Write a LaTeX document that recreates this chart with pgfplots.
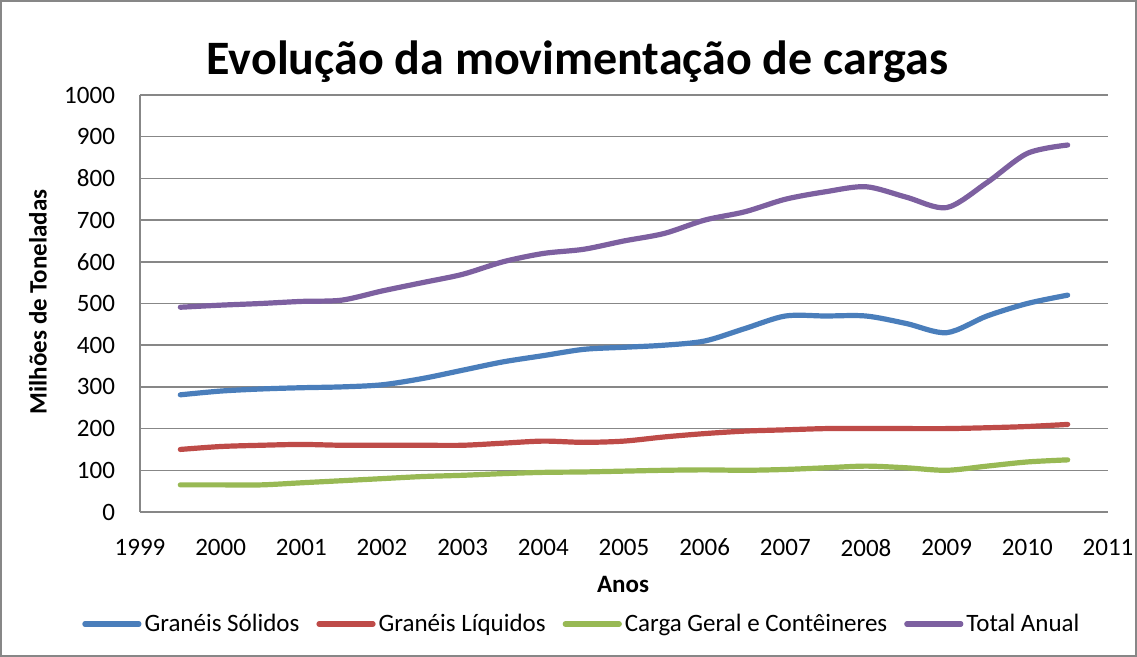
\documentclass[border=0pt]{standalone}
\usepackage{pgfplots}
\pgfplotsset{compat=1.18}
\usepackage{pgfplotstable}
\usepackage{fontspec}
\setmainfont{Carlito}
\definecolor{cblue}{HTML}{4A7EBB}
\definecolor{cred}{HTML}{BE4B48}
\definecolor{cgreen}{HTML}{98B954}
\definecolor{cpurple}{HTML}{7D60A0}
\definecolor{cgrid}{HTML}{878787}

\pgfplotstableread{
x y
1999.5 281
2000 290
2000.5 295
2001 298
2001.5 300
2002 305
2002.5 320
2003 340
2003.5 360
2004 375
2004.5 390
2005 395
2005.5 400
2006 410
2006.5 440
2007 470
2007.5 470
2008 470
2008.5 452
2009 430
2009.5 470
2010 500
2010.5 520
}\solidos

\pgfplotstableread{
x y
1999.5 150
2000 157
2000.5 160
2001 162
2001.5 160
2002 160
2002.5 160
2003 160
2003.5 165
2004 170
2004.5 167
2005 170
2005.5 180
2006 188
2006.5 194
2007 197
2007.5 200
2008 200
2008.5 200
2009 200
2009.5 202
2010 205
2010.5 210
}\liquidos

\pgfplotstableread{
x y
1999.5 65
2000 65
2000.5 65
2001 70
2001.5 75
2002 80
2002.5 85
2003 88
2003.5 92
2004 95
2004.5 96
2005 98
2005.5 100
2006 101
2006.5 100
2007 102
2007.5 106
2008 110
2008.5 106
2009 100
2009.5 110
2010 120
2010.5 125
}\geral

\pgfplotstableread{
x y
1999.5 491
2000 496
2000.5 500
2001 505
2001.5 508
2002 530
2002.5 550
2003 570
2003.5 600
2004 620
2004.5 630
2005 650
2005.5 668
2006 700
2006.5 720
2007 750
2007.5 768
2008 780
2008.5 755
2009 730
2009.5 790
2010 860
2010.5 880
}\total

\begin{document}
\begin{tikzpicture}
\useasboundingbox (0,0) rectangle (568.5pt,328.5pt);
\draw[cgrid, line width=0.75pt] (0.4pt,0.4pt) rectangle (568.1pt,328.1pt);
\begin{axis}[
  at={(70pt,72.5pt)}, anchor=south west,
  scale only axis, width=484pt, height=208.5pt,
  xmin=1999, xmax=2011, ymin=0, ymax=1000,
  xtick={1999,2000,...,2011}, ytick={0,100,...,1000},
  /pgf/number format/1000 sep={},
  /pgf/number format/assume math mode=true,
  font=\fontsize{12.5}{15}\selectfont,
  ymajorgrids, grid style={cgrid, line width=0.75pt},
  axis line style={cgrid, line width=0.75pt},
  axis x line*=bottom, axis y line*=left,
  major tick length=0pt,
  yticklabel style={xshift=-9pt},
  xticklabel style={yshift=-10pt},
  title={\fontsize{24}{28}\selectfont\bfseries Evolução da movimentação de cargas},
  title style={at={(axis description cs:0.452,1.05)}, anchor=center},
  xlabel={\bfseries Anos},
  xlabel style={at={(axis description cs:0.499,-0.175)}, anchor=center},
  ylabel={\bfseries Milhões de Toneladas},
  ylabel style={at={(axis description cs:-0.1054,0.504)}, anchor=center, rotate=0},
  legend style={at={(axis description cs:0.457,-0.2686)}, anchor=center,
    draw=none, legend columns=4, font=\fontsize{12.5}{15}\selectfont,
    /tikz/every even column/.append style={column sep=7pt},
    nodes={inner xsep=1.5pt},
    inner sep=0pt},
  legend image code/.code={\draw[#1, line width=2.6pt] (0pt,0pt) -- (27pt,0pt);},
  legend cell align=left,
  every axis plot/.append style={line width=2.6pt, smooth, no markers, line cap=round},
]
\addplot[cblue] table[x=x,y=y] {\solidos};
\addlegendentry{Granéis Sólidos}
\addplot[cred] table[x=x,y=y] {\liquidos};
\addlegendentry{Granéis Líquidos}
\addplot[cgreen] table[x=x,y=y] {\geral};
\addlegendentry{Carga Geral e Contêineres}
\addplot[cpurple] table[x=x,y=y] {\total};
\addlegendentry{Total Anual}
\end{axis}
\end{tikzpicture}
\end{document}
